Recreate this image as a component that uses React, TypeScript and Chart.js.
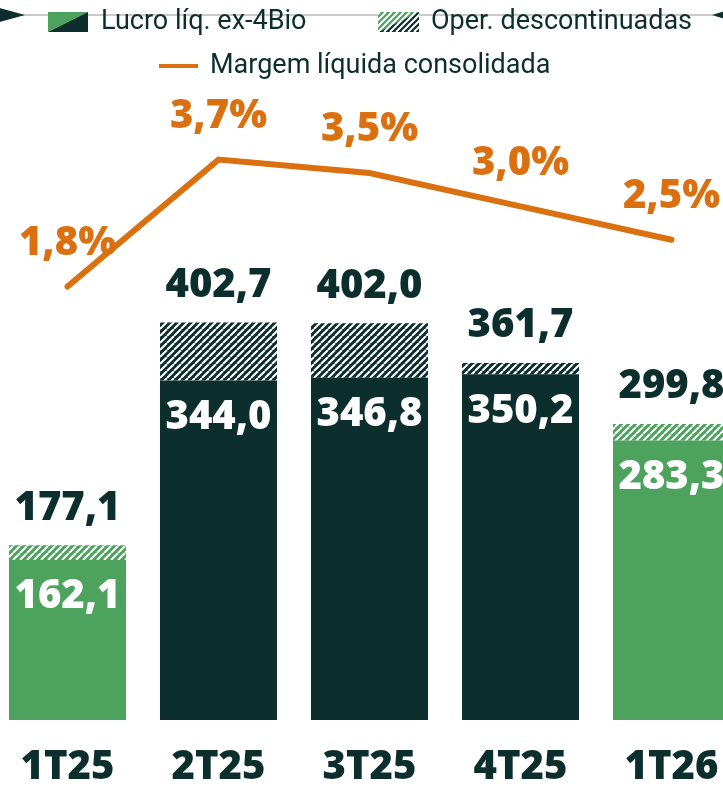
import React, { useEffect, useRef } from "react";
import { Chart, registerables } from "chart.js";

Chart.register(...registerables);

// ---- data ----
const categories = ["1T25", "2T25", "3T25", "4T25", "1T26"];
const lucroEx4Bio = [162.1, 344.0, 346.8, 350.2, 283.3];
const operDescontinuadas = [15.0, 58.7, 55.2, 11.5, 16.5];
const margemLiquida = [1.8, 3.7, 3.5, 3.0, 2.5];
const barTone = ["light", "dark", "dark", "dark", "light"];

const LIGHT = "#4DA35E";
const DARK = "#0C2E2C";
const ORANGE = "#DA700F";
const TEXT = "#0C2E2C";
const FONT_BOLD = "'Noto Sans', Roboto, sans-serif";
const FONT_LEGEND = "Roboto, 'Noto Sans', sans-serif";
const CANVAS_SHIFT = 8; // canvas starts 8px left of the page

const fmt = (v: number) => v.toFixed(1).replace(".", ",");

function makeHatch(base: string): CanvasPattern | string {
  const s = 7;
  const c = document.createElement("canvas");
  c.width = s;
  c.height = s;
  const g = c.getContext("2d");
  if (!g) return base;
  g.fillStyle = base;
  g.fillRect(0, 0, s, s);
  g.strokeStyle = "#ffffff";
  g.lineWidth = 2;
  g.beginPath();
  for (const o of [-s, 0, s]) {
    g.moveTo(o, s);
    g.lineTo(o + s, 0);
  }
  g.stroke();
  const p = g.createPattern(c, "repeat");
  return p || base;
}

const labelsPlugin = {
  id: "valueLabels",
  afterDatasetsDraw(chart: any) {
    const ctx = chart.ctx;
    const mMain = chart.getDatasetMeta(0);
    const mDisc = chart.getDatasetMeta(1);
    const mLine = chart.getDatasetMeta(2);
    ctx.save();
    ctx.textAlign = "center";
    ctx.textBaseline = "middle";
    ctx.font = `900 40px ${FONT_BOLD}`;
    categories.forEach((_, i) => {
      const main = mMain.data[i];
      const disc = mDisc.data[i];
      ctx.fillStyle = "#ffffff";
      ctx.fillText(fmt(lucroEx4Bio[i]), main.x, main.y + 37);
      ctx.fillStyle = TEXT;
      ctx.fillText(fmt(lucroEx4Bio[i] + operDescontinuadas[i]), disc.x, disc.y - 37);
      const pt = mLine.data[i];
      ctx.fillStyle = ORANGE;
      ctx.fillText(fmt(margemLiquida[i]) + "%", pt.x, pt.y - 43);
    });
    ctx.restore();
  },
};

const legendPlugin = {
  id: "customLegend",
  afterDraw(chart: any) {
    const ctx = chart.ctx;
    const X = (x: number) => x + CANVAS_SHIFT;
    ctx.save();
    ctx.strokeStyle = "#b8b8b8";
    ctx.lineWidth = 1.5;
    ctx.beginPath();
    ctx.moveTo(X(0), 15);
    ctx.lineTo(X(714), 15);
    ctx.stroke();
    ctx.fillStyle = DARK;
    ctx.beginPath();
    ctx.moveTo(X(-4), 7);
    ctx.lineTo(X(25), 15);
    ctx.lineTo(X(-4), 23);
    ctx.quadraticCurveTo(X(4), 15, X(-4), 7);
    ctx.fill();
    ctx.beginPath();
    ctx.moveTo(X(712), 15);
    ctx.lineTo(X(725), 11);
    ctx.lineTo(X(725), 19);
    ctx.closePath();
    ctx.fill();

    const ds = chart.data.datasets;
    const drawSplit = (x: number, y: number, w: number, h: number) => {
      ctx.fillStyle = LIGHT;
      ctx.beginPath();
      ctx.moveTo(X(x), y);
      ctx.lineTo(X(x + w), y);
      ctx.lineTo(X(x), y + h);
      ctx.closePath();
      ctx.fill();
      ctx.fillStyle = DARK;
      ctx.beginPath();
      ctx.moveTo(X(x + w), y);
      ctx.lineTo(X(x + w), y + h);
      ctx.lineTo(X(x), y + h);
      ctx.closePath();
      ctx.fill();
    };
    drawSplit(48, 12, 40, 20);
    ctx.save();
    ctx.beginPath();
    ctx.rect(X(378), 12, 41, 20);
    ctx.clip();
    drawSplit(378, 12, 41, 20);
    ctx.strokeStyle = "#ffffff";
    ctx.lineWidth = 2;
    ctx.beginPath();
    for (let k = -30; k < 60; k += 6) {
      ctx.moveTo(X(378 + k), 32);
      ctx.lineTo(X(378 + k + 20), 12);
    }
    ctx.stroke();
    ctx.restore();
    ctx.strokeStyle = ORANGE;
    ctx.lineWidth = 4;
    ctx.beginPath();
    ctx.moveTo(X(159), 66);
    ctx.lineTo(X(198), 66);
    ctx.stroke();

    ctx.fillStyle = TEXT;
    ctx.font = `27px ${FONT_LEGEND}`;
    ctx.textAlign = "left";
    ctx.textBaseline = "middle";
    ctx.fillText(ds[0].label, X(101), 22);
    ctx.fillText(ds[1].label, X(431), 22);
    ctx.fillText(ds[2].label, X(210), 66);
    ctx.restore();
  },
};

export default function App() {
  const ref = useRef<HTMLCanvasElement | null>(null);
  useEffect(() => {
    if (!ref.current) return;
    const mainColors = barTone.map((t) => (t === "light" ? LIGHT : DARK));
    const hatchColors = barTone.map((t) => makeHatch(t === "light" ? LIGHT : DARK));
    const chart = new Chart(ref.current, {
      type: "bar",
      data: {
        labels: categories,
        datasets: [
          {
            type: "bar",
            label: "Lucro líq. ex-4Bio",
            data: lucroEx4Bio,
            backgroundColor: mainColors,
            stack: "s",
            yAxisID: "y",
            order: 2,
          },
          {
            type: "bar",
            label: "Oper. descontinuadas",
            data: operDescontinuadas,
            backgroundColor: hatchColors as any,
            stack: "s",
            yAxisID: "y",
            order: 2,
          },
          {
            type: "line",
            label: "Margem líquida consolidada",
            data: margemLiquida,
            borderColor: ORANGE,
            borderWidth: 6,
            borderCapStyle: "round",
            borderJoinStyle: "miter",
            pointRadius: 0,
            tension: 0,
            yAxisID: "y2",
            order: 1,
          } as any,
        ],
      },
      options: {
        animation: false,
        responsive: true,
        maintainAspectRatio: false,
        layout: { padding: 0 },
        datasets: {
          bar: { categoryPercentage: 1, barPercentage: 0.775 },
        },
        plugins: {
          legend: { display: false },
          tooltip: { enabled: false },
        },
        scales: {
          x: {
            stacked: true,
            offset: true,
            grid: { display: false, drawTicks: false },
            border: { display: false },
            ticks: {
              color: TEXT,
              padding: 28,
              font: { family: FONT_BOLD, size: 40, weight: 900, lineHeight: 1 },
            },
          },
          y: { stacked: true, display: false, min: 0, max: 729.5 },
          y2: { display: false, min: -4.69, max: 6.09 },
        },
      },
      plugins: [labelsPlugin, legendPlugin],
    });
    return () => chart.destroy();
  }, []);

  return (
    <div
      style={{
        position: "fixed",
        left: 0,
        top: 0,
        width: 723,
        height: 786,
        overflow: "hidden",
        background: "#ffffff",
      }}
    >
      <div
        style={{
          position: "absolute",
          left: -CANVAS_SHIFT,
          top: 0,
          width: 755,
          height: 816,
        }}
      >
        <canvas ref={ref} />
      </div>
    </div>
  );
}
